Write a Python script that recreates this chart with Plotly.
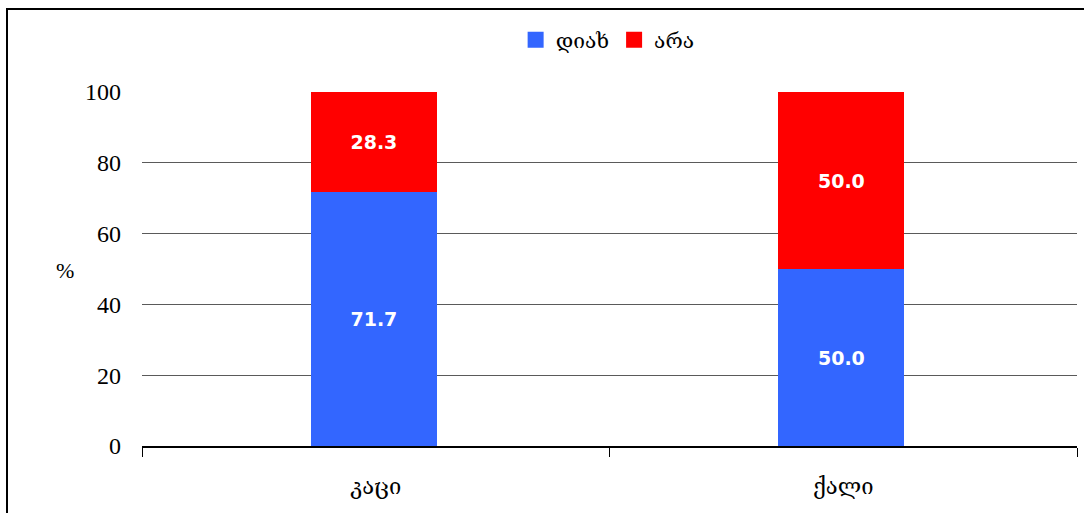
import plotly.graph_objects as go

categories = ["კაცი", "ქალი"]
yes_values = [71.7, 50.0]
no_values = [28.3, 50.0]
series_names = ["დიახ", "არა"]
series_colors = ["#3366FF", "#FF0000"]
y_ticks = [0, 20, 40, 60, 80, 100]

W, H = 1084, 513
L, R, T, B = 142, 7, 92, 67
pw, ph = W - L - R, H - T - B

label_font = dict(family="DejaVu Sans", size=19, color="white", weight="bold")

fig = go.Figure()
for vals, name, color in [(yes_values, series_names[0], series_colors[0]),
                          (no_values, series_names[1], series_colors[1])]:
    fig.add_trace(go.Bar(
        x=categories, y=vals, name=name, showlegend=False,
        marker=dict(color=color, line=dict(width=0)),
        text=[f"{v:.1f}" for v in vals], textposition="inside",
        insidetextanchor="middle", textfont=label_font, textangle=0,
        offset=-0.139, width=0.27,
    ))

# legend entries with square swatches
for name, color in zip(series_names, series_colors):
    fig.add_trace(go.Scatter(
        x=[None], y=[None], mode="markers", name=name,
        marker=dict(symbol="square", size=16, color=color),
    ))

fig.update_layout(
    width=W, height=H,
    margin=dict(l=L, r=R, t=T, b=B),
    barmode="stack",
    plot_bgcolor="white", paper_bgcolor="white",
    showlegend=True,
    legend=dict(orientation="h", x=0.498, xanchor="center",
                y=(H - B - 40) / ph, yanchor="middle", traceorder="normal",
                font=dict(family="DejaVu Serif", size=21, color="black"),
                itemwidth=30, tracegroupgap=0, bgcolor="rgba(0,0,0,0)"),
    xaxis=dict(showline=True, linecolor="black", linewidth=1.5,
               ticks="outside", tickson="boundaries", ticklen=9,
               tickcolor="black", tickwidth=1,
               tickfont=dict(family="DejaVu Serif", size=22, color="black"),
               showgrid=False, ticklabelstandoff=20),
    yaxis=dict(range=[0, 100], tickvals=y_ticks, showgrid=True,
               gridcolor="#5a5a5a", gridwidth=1, zeroline=False,
               showline=False, ticks="",
               tickfont=dict(family="Liberation Serif", size=24, color="black"),
               ticklabelstandoff=20),
)

# "%" axis caption
fig.add_annotation(text="%", xref="paper", yref="paper",
                   x=(65 - L) / pw, y=(H - B - 270) / ph,
                   showarrow=False, xanchor="center", yanchor="middle",
                   font=dict(family="Liberation Serif", size=22, color="black"))

# outer frame
fig.add_shape(type="rect", xref="paper", yref="paper",
              x0=(7 - L) / pw, x1=(W + 20 - L) / pw,
              y0=(H - B - (H + 20)) / ph, y1=(H - B - 9) / ph,
              line=dict(color="black", width=2), fillcolor="rgba(0,0,0,0)",
              layer="below")

fig.write_html("out.html")
